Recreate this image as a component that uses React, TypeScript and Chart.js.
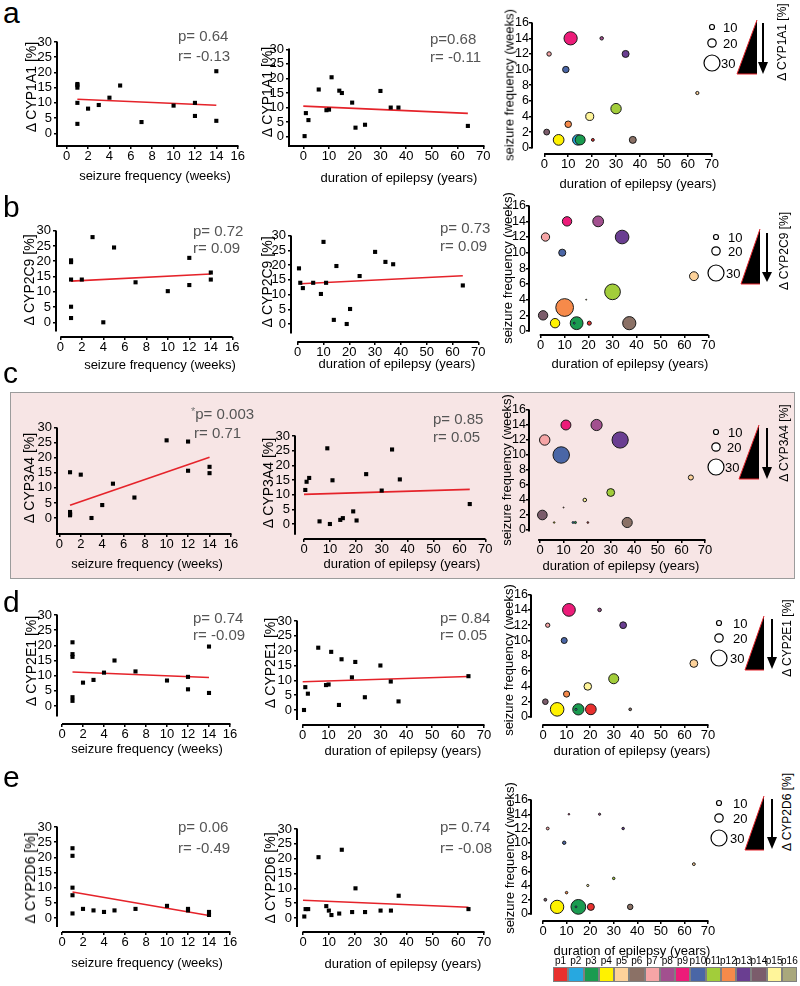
import React, { useEffect, useRef } from 'react';
import { Chart, registerables } from 'chart.js';

Chart.register(...registerables);

const FONT = '"Liberation Sans", Arial, Helvetica, sans-serif';

// ---------------- data ----------------
const PATIENTS = ['p1', 'p2', 'p3', 'p4', 'p5', 'p6', 'p7', 'p8', 'p9', 'p10', 'p11', 'p12', 'p13', 'p14', 'p15', 'p16'];
const PATIENT_COLORS = ['#e8302e', '#27a8e0', '#1a9b50', '#fff200', '#fdd29a', '#8b7166', '#f6a5a6', '#a2508f',
  '#ec1c79', '#4a66a6', '#a2cd3a', '#f68a4a', '#6a3e91', '#7b5c6b', '#fff59a', '#a9a87c'];
const DURATION_YEARS = [20.3, 14, 15, 6, 64, 37, 2, 24, 11, 9, 30, 10, 34, 1, 19, 0.5];
const SEIZURE_FREQ_WEEKS = [1, 1, 1, 1, 7, 1, 12, 14, 14, 10, 5, 3, 12, 2, 4, null];

const DELTA_CYP1A1 = [3.1, 15.8, 15, 16.2, 3.7, 10, 5.7, 4.1, 20.4, 9.1, 15.7, 9.3, 10, 8.1, 11.7, 0.2];
const DELTA_CYP2C9 = [5.1, 1.4, 19.7, 14, 13.1, 20.3, 12.2, 16.3, 14, 10.2, 24.5, 27.9, 21.1, 14, 0, 18.9];
const DELTA_CYP3A4 = [1.2, 1.4, 2.0, 0.9, 6.8, 15.2, 15.7, 17, 14.9, 25.8, 11.4, 0, 25.4, 14.4, 4.3, 11.6];
const DELTA_CYP2E1 = [16.2, 1.7, 17.1, 21, 11.4, 2.9, 5.5, 4.3, 19.6, 8.4, 15, 8.6, 9.6, 7.7, 11, 0];
const DELTA_CYP2D6 = [10, 1.5, 23, 20.5, 3, 7.5, 3, 2, 1, 4, 2.5, 2.5, 2.5, 3, 2, 0.5];

const ENZYME_NAMES = ['CYP1A1', 'CYP2C9', 'CYP3A4', 'CYP2E1', 'CYP2D6'];
const ROW_LETTERS = ['a', 'b', 'c', 'd', 'e'];

const FIT_FREQ_CYP1A1 = [{ x: 1, y: 11.2 }, { x: 14, y: 9.2 }];
const FIT_DUR_CYP1A1 = [{ x: 0, y: 10.5 }, { x: 64, y: 8.0 }];
const FIT_FREQ_CYP2C9 = [{ x: 1, y: 13.5 }, { x: 14, y: 15.8 }];
const FIT_DUR_CYP2C9 = [{ x: 1, y: 13.7 }, { x: 64, y: 16.4 }];
const FIT_FREQ_CYP3A4 = [{ x: 1, y: 4.2 }, { x: 14, y: 20.2 }];
const FIT_DUR_CYP3A4 = [{ x: 0, y: 10.1 }, { x: 64, y: 11.8 }];
const FIT_FREQ_CYP2E1 = [{ x: 1, y: 11.2 }, { x: 14, y: 9.4 }];
const FIT_DUR_CYP2E1 = [{ x: 0, y: 9.5 }, { x: 64, y: 11.3 }];
const FIT_FREQ_CYP2D6 = [{ x: 1, y: 8.6 }, { x: 14, y: 0.8 }];
const FIT_DUR_CYP2D6 = [{ x: 0, y: 6.0 }, { x: 64, y: 3.6 }];

const P_FREQ = ['p= 0.64', 'p= 0.72', 'p= 0.003', 'p= 0.74', 'p= 0.06'];
const R_FREQ = ['r= -0.13', 'r= 0.09', 'r= 0.71', 'r= -0.09', 'r= -0.49'];
const SIGNIFICANT_FREQ = [false, false, true, false, false];
const P_DUR = ['p=0.68', 'p= 0.73', 'p= 0.85', 'p= 0.84', 'p= 0.74'];
const R_DUR = ['r= -0.11', 'r= 0.09', 'r= 0.05', 'r= 0.05', 'r= -0.08'];

const FREQ_TICKS = [0, 2, 4, 6, 8, 10, 12, 14, 16];
const DUR_TICKS = [0, 10, 20, 30, 40, 50, 60, 70];
const DELTA_TICKS = [0, 5, 10, 15, 20, 25, 30];
const BUBBLE_Y_TICKS = [0, 2, 4, 6, 8, 10, 12, 14, 16];
const SIZE_LEGEND_VALUES = [10, 20, 30];

const X_TITLE_FREQ = 'seizure frequency (weeks)';
const X_TITLE_DUR = 'duration of epilepsy (years)';

// tables built from the named arrays
const DELTAS = [DELTA_CYP1A1, DELTA_CYP2C9, DELTA_CYP3A4, DELTA_CYP2E1, DELTA_CYP2D6];
const FITS_FREQ = [FIT_FREQ_CYP1A1, FIT_FREQ_CYP2C9, FIT_FREQ_CYP3A4, FIT_FREQ_CYP2E1, FIT_FREQ_CYP2D6];
const FITS_DUR = [FIT_DUR_CYP1A1, FIT_DUR_CYP2C9, FIT_DUR_CYP3A4, FIT_DUR_CYP2E1, FIT_DUR_CYP2D6];

// ---------------- layout (page pixels) ----------------
const AXIS_W = 45;
const AXIS_H = 26;
const PAD_T = 10;
const PAD_R = 14;

// cl/cr/ct/cb : plot area; xa / ya : [value, pixel, value, pixel]
const GEOMETRY = [
  [
    { kind: 'freq', cl: 57, cr: 238, ct: 42, cb: 146, xa: [0, 66.7, 16, 237.7], ya: [0, 133.3, 30, 42] },
    { kind: 'dur', cl: 289, cr: 484, ct: 49, cb: 146, xa: [0, 303.3, 70, 483.3], ya: [0, 136.7, 30, 49.3] },
    { kind: 'bubble', cl: 532, cr: 712, ct: 23, cb: 154, xa: [0, 544.3, 70, 711.7], ya: [0, 147.7, 16, 22.7], xLineFrom: -0.1, yLineTo: -0.1 },
  ],
  [
    { kind: 'freq', cl: 56, cr: 232, ct: 231, cb: 337, xa: [0, 60.3, 16, 232.3], ya: [0, 322.3, 30, 230.7], xLineFrom: 0, yLineTo: -3 },
    { kind: 'dur', cl: 291, cr: 478, ct: 236, cb: 342, xa: [0, 297.7, 70, 478.3], ya: [0, 324, 30, 235.7], xLineFrom: -0.2, yLineTo: -3.2 },
    { kind: 'bubble', cl: 529, cr: 708, ct: 206, cb: 335, xa: [0, 540.7, 70, 708.3], ya: [0, 331, 16, 205.7], xLineFrom: -0.4, yLineTo: -0.1 },
  ],
  [
    { kind: 'freq', cl: 57, cr: 231, ct: 428, cb: 534, xa: [0, 59.3, 16, 231], ya: [0, 518, 30, 427.7] },
    { kind: 'dur', cl: 295, cr: 485, ct: 436, cb: 539, xa: [0, 304, 70, 485.3], ya: [0, 524, 30, 436], xLineFrom: -0.1, yLineTo: -3.7 },
    { kind: 'bubble', cl: 529, cr: 705, ct: 410, cb: 540, xa: [0, 540, 70, 705], ya: [0, 530, 16, 410], xLineFrom: -0.8, yLineTo: -0.2 },
  ],
  [
    { kind: 'freq', cl: 57, cr: 230, ct: 615, cb: 724, xa: [0, 62, 16, 230], ya: [0, 706, 30, 615], xLineFrom: 0, yLineTo: -3.5 },
    { kind: 'dur', cl: 297, cr: 484, ct: 621, cb: 725, xa: [0, 302.7, 70, 484], ya: [0, 710, 30, 621], xLineFrom: -0.2, yLineTo: -3.4 },
    { kind: 'bubble', cl: 531, cr: 708, ct: 595, cb: 725, xa: [0, 543, 70, 708], ya: [0, 717, 16, 594.6], xLineFrom: -0.3, yLineTo: -0.1 },
  ],
  [
    { kind: 'freq', cl: 57, cr: 230, ct: 827, cb: 932, xa: [0, 62, 16, 230], ya: [0, 918, 30, 827], xLineFrom: 0, yLineTo: -3 },
    { kind: 'dur', cl: 297, cr: 484, ct: 829, cb: 932, xa: [0, 303, 70, 484], ya: [0, 918, 30, 829], xLineFrom: -0.2, yLineTo: -3 },
    { kind: 'bubble', cl: 531, cr: 708, ct: 800, cb: 921, xa: [0, 543, 70, 708], ya: [0, 914, 16, 800], xLineFrom: -0.3, yLineTo: -0.1 },
  ],
];

// axis titles: [x-title center x, y], [y-title center x, y]
const TITLES = [
  [[155, 175, 31, 87], [399, 177, 267, 92], [638, 183, 509, 85]],
  [[160, 364, 29, 280], [397, 363, 267, 282], [630, 363, 507, 268]],
  [[147, 563, 29, 478], [402, 563, 268, 483], [621, 565, 506, 470]],
  [[147, 748, 31, 661], [403, 750, 270, 663], [632, 750, 508, 660]],
  [[147, 962, 30, 878], [403, 963, 270, 878], [632, 950, 509, 858]],
];

// p / r annotation positions: [x, y(p), y(r)]
const STAT_POS_FREQ = [[178, 35, 55], [193, 230, 247], [191, 413, 432], [193, 617, 634], [178, 826, 847]];
const STAT_POS_DUR = [[430, 38, 56], [440, 227, 245], [433, 418, 436], [440, 617, 634], [440, 826, 847]];
const LETTER_POS = [[3, 23], [3, 217], [3, 383], [3, 612], [3, 787]];

// bubble size legends
const SIZE_LEG = [
  { cx: 712, cy: [27, 43, 63], tx: [723, 723, 721], tri: [737, 757, 20, 74], ax: 763, ay: [23, 62, 74], lx: 782, ly: 42 },
  { cx: 716, cy: [237, 251, 273], tx: [728, 728, 726], tri: [741, 760, 229, 284], ax: 767, ay: [233, 272, 282], lx: 784, ly: 251 },
  { cx: 716, cy: [432, 447, 467], tx: [728, 727, 725], tri: [739, 759, 425, 479], ax: 767, ay: [428, 467, 479], lx: 784, ly: 443 },
  { cx: 719, cy: [623, 638, 658], tx: [733, 733, 730], tri: [745, 764, 616, 670], ax: 772, ay: [619, 657, 669], lx: 787, ly: 638 },
  { cx: 719, cy: [803, 818, 838], tx: [733, 733, 730], tri: [745, 764, 796, 850], ax: 772, ay: [799, 837, 849], lx: 787, ly: 812 },
];
const SIZE_LEG_R = [2.5, 4.2, 8];

// ---------------- helpers ----------------
function range(lo: number, hi: number, a: number[]) {
  const [v0, p0, v1, p1] = a;
  const k = (v1 - v0) / (p1 - p0);
  const m1 = v0 + (lo - p0) * k;
  const m2 = v0 + (hi - p0) * k;
  return { min: Math.min(m1, m2), max: Math.max(m1, m2) };
}

const prismAxes = {
  id: 'prismAxes',
  afterDraw(chart: any, _args: any, opts: any) {
    const { ctx, chartArea: ca } = chart;
    const xs = chart.scales.x;
    const ys = chart.scales.y;
    ctx.save();
    ctx.strokeStyle = '#000';
    ctx.lineWidth = 2;
    const yBot = opts.yLineTo == null ? ca.bottom + 1 : ys.getPixelForValue(opts.yLineTo);
    ctx.beginPath();
    ctx.moveTo(ca.left, ca.top - 0.5);
    ctx.lineTo(ca.left, yBot);
    ctx.stroke();
    const xLeft = opts.xLineFrom == null ? ca.left - 1 : xs.getPixelForValue(opts.xLineFrom);
    ctx.beginPath();
    ctx.moveTo(xLeft, ca.bottom);
    ctx.lineTo(ca.right + 0.5, ca.bottom);
    ctx.stroke();
    ctx.restore();
  },
};

function scaleCfg(r: { min: number; max: number }, ticks: number[], isX: boolean, compact: boolean) {
  return {
    type: 'linear',
    min: r.min,
    max: r.max,
    afterBuildTicks: (s: any) => {
      s.ticks = ticks.map((v) => ({ value: v }));
    },
    afterFit: (s: any) => {
      if (isX) s.height = AXIS_H;
      else s.width = AXIS_W;
    },
    border: { display: false },
    grid: { display: true, drawOnChartArea: false, drawTicks: true, tickLength: 3, color: '#000', lineWidth: 1.5 },
    ticks: {
      color: '#000',
      font: { family: FONT, size: compact ? 12.5 : 13 },
      padding: isX ? 0 : (compact ? 0 : 2),
      autoSkip: false, maxRotation: 0, minRotation: 0,
    },
  };
}

function buildConfig(row: number, g: any) {
  const delta = DELTAS[row];
  const cl = Math.round(g.cl), cr = Math.round(g.cr), ct = Math.round(g.ct), cb = Math.round(g.cb);
  const xr = range(cl, cr, g.xa);
  const yr = range(ct, cb, g.ya);
  let type = 'scatter';
  let datasets: any[] = [];
  let xTicks = FREQ_TICKS;
  let yTicks = DELTA_TICKS;
  const isBubble = g.kind === 'bubble';
  if (isBubble) {
    type = 'bubble';
    xTicks = DUR_TICKS;
    yTicks = BUBBLE_Y_TICKS;
    const pts: any[] = [];
    PATIENTS.forEach((_p, i) => {
      const f = SEIZURE_FREQ_WEEKS[i];
      if (f == null) return;
      pts.push({ x: DURATION_YEARS[i], y: f, r: 0.3 * delta[i] + 0.5, c: PATIENT_COLORS[i] });
    });
    pts.sort((a, b) => b.r - a.r);
    datasets = [{
      data: pts.map((p) => ({ x: p.x, y: p.y, r: p.r })),
      backgroundColor: pts.map((p) => p.c),
      borderColor: '#1a1a1a',
      borderWidth: 1,
    }];
  } else {
    const isFreq = g.kind === 'freq';
    if (!isFreq) xTicks = DUR_TICKS;
    const pts: any[] = [];
    PATIENTS.forEach((_p, i) => {
      const xv = isFreq ? SEIZURE_FREQ_WEEKS[i] : DURATION_YEARS[i];
      if (xv == null) return;
      pts.push({ x: xv, y: delta[i] });
    });
    datasets = [
      { data: pts, pointStyle: 'rect', pointRadius: 2.9, backgroundColor: '#000', borderWidth: 0, showLine: false },
      { data: isFreq ? FITS_FREQ[row] : FITS_DUR[row], showLine: true, borderColor: '#e5232a', borderWidth: 1.6, pointRadius: 0, fill: false },
    ];
  }
  return {
    type,
    data: { datasets },
    options: {
      responsive: false,
      maintainAspectRatio: false,
      animation: false,
      events: [],
      layout: { padding: { left: 0, top: PAD_T, right: PAD_R, bottom: 0 } },
      plugins: {
        legend: { display: false },
        tooltip: { enabled: false },
        prismAxes: { xLineFrom: g.xLineFrom, yLineTo: g.yLineTo },
      },
      scales: {
        x: scaleCfg(xr, xTicks, true, false),
        y: scaleCfg(yr, yTicks, false, isBubble),
      },
    },
    plugins: [prismAxes],
  };
}

function ChartPanel({ row, g }: { row: number; g: any }) {
  const ref = useRef<HTMLCanvasElement>(null);
  const L = Math.round(g.cl) - AXIS_W;
  const T = Math.round(g.ct) - PAD_T;
  const W = Math.round(g.cr) + PAD_R - L;
  const H = Math.round(g.cb) + AXIS_H - T;
  useEffect(() => {
    const chart = new Chart(ref.current as HTMLCanvasElement, buildConfig(row, g) as any);
    return () => chart.destroy();
  }, []);
  return (
    <canvas ref={ref} width={W} height={H}
      style={{ position: 'absolute', left: L, top: T, width: W, height: H }} />
  );
}

function CText({ x, y, size, rotate, children, color }: any) {
  return (
    <div style={{
      position: 'absolute', left: x, top: y, fontSize: size, lineHeight: 1, whiteSpace: 'nowrap',
      color: color || '#000',
      transform: `translate(-50%, -50%)${rotate ? ' rotate(-90deg)' : ''}`,
    }}>{children}</div>
  );
}

function LText({ x, y, size, children, color }: any) {
  return (
    <div style={{
      position: 'absolute', left: x, top: y, fontSize: size, lineHeight: 1, whiteSpace: 'nowrap',
      color: color || '#000', transform: 'translateY(-50%)',
    }}>{children}</div>
  );
}

export default function App() {
  const rows = [0, 1, 2, 3, 4];
  return (
    <div style={{ position: 'absolute', left: 0, top: 0, width: 800, height: 986, background: '#fff', fontFamily: FONT, overflow: 'hidden' }}>
      {/* highlighted row c */}
      <div style={{ position: 'absolute', left: 10, top: 392, width: 785, height: 187, background: '#f7e5e5', border: '1px solid #9c9c9c', boxSizing: 'border-box' }} />

      {rows.map((row) => (
        <React.Fragment key={'r' + row}>
          <div style={{ position: 'absolute', left: LETTER_POS[row][0], top: LETTER_POS[row][1] - 25.4, fontSize: 30, lineHeight: 1 }}>
            {ROW_LETTERS[row]}
          </div>
          {GEOMETRY[row].map((g, k) => (
            <ChartPanel key={'c' + row + k} row={row} g={g} />
          ))}
          {/* axis titles */}
          {GEOMETRY[row].map((g, k) => {
            const t = TITLES[row][k];
            const xTitle = g.kind === 'freq' ? X_TITLE_FREQ : X_TITLE_DUR;
            const yTitle = g.kind === 'bubble' ? X_TITLE_FREQ : `Δ ${ENZYME_NAMES[row]} [%]`;
            return (
              <React.Fragment key={'t' + row + k}>
                <CText x={t[0]} y={t[1]} size={13}>{xTitle}</CText>
                <CText x={t[2]} y={t[3]} size={g.kind === 'bubble' ? 13 : 14} rotate>{yTitle}</CText>
              </React.Fragment>
            );
          })}
          {/* statistics */}
          <LText x={STAT_POS_FREQ[row][0]} y={STAT_POS_FREQ[row][1]} size={15} color="#555">
            {SIGNIFICANT_FREQ[row] ? <span style={{ fontSize: 11, color: '#777', verticalAlign: 'top' }}>*</span> : null}
            {P_FREQ[row]}
          </LText>
          <LText x={STAT_POS_FREQ[row][0] + (SIGNIFICANT_FREQ[row] ? 3 : 0)} y={STAT_POS_FREQ[row][2]} size={15} color="#555">{R_FREQ[row]}</LText>
          <LText x={STAT_POS_DUR[row][0]} y={STAT_POS_DUR[row][1]} size={15} color="#555">{P_DUR[row]}</LText>
          <LText x={STAT_POS_DUR[row][0]} y={STAT_POS_DUR[row][2]} size={15} color="#555">{R_DUR[row]}</LText>
          {/* size legend texts */}
          {SIZE_LEGEND_VALUES.map((v, j) => (
            <LText key={'sl' + row + j} x={SIZE_LEG[row].tx[j]} y={SIZE_LEG[row].cy[j]} size={13}>{String(v)}</LText>
          ))}
          <CText x={SIZE_LEG[row].lx} y={SIZE_LEG[row].ly} size={12} rotate>{`Δ ${ENZYME_NAMES[row]} [%]`}</CText>
        </React.Fragment>
      ))}

      <svg width={800} height={986} style={{ position: 'absolute', left: 0, top: 0, pointerEvents: 'none' }}>
        {SIZE_LEG.map((s, row) => {
          const [x1, x2, y1, y2] = s.tri;
          const [a0, a1, a2] = s.ay;
          return (
            <g key={'lg' + row}>
              {SIZE_LEG_R.map((r, j) => (
                <circle key={j} cx={s.cx} cy={s.cy[j]} r={r} fill="#fff" stroke="#000" strokeWidth={1.2} />
              ))}
              <polygon points={`${x1},${y2} ${x2},${y2} ${x2},${y1}`} fill="#000" />
              <polyline points={`${x2},${y1} ${x1},${y2} ${x2},${y2}`} fill="none" stroke="#e5232a" strokeWidth={1} />
              <line x1={s.ax} y1={a0} x2={s.ax} y2={a1} stroke="#000" strokeWidth={2} />
              <polygon points={`${s.ax - 5},${a1} ${s.ax + 5},${a1} ${s.ax},${a2}`} fill="#000" />
            </g>
          );
        })}
      </svg>

      {/* patient colour key */}
      {PATIENTS.map((p, i) => {
        const w = 15.25;
        const x = 553 + i * w;
        return (
          <React.Fragment key={p}>
            <CText x={x + w / 2} y={961} size={10}>{p}</CText>
            <div style={{ position: 'absolute', left: x, top: 967, width: w, height: 15, background: PATIENT_COLORS[i], border: '1px solid #808080', boxSizing: 'border-box' }} />
          </React.Fragment>
        );
      })}
    </div>
  );
}
